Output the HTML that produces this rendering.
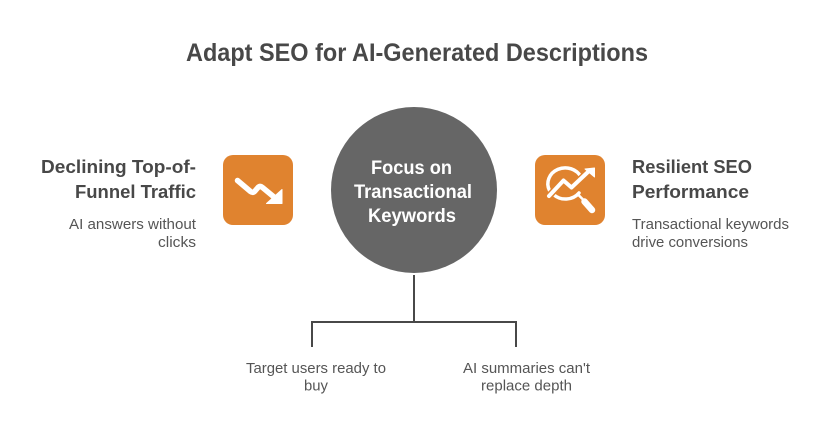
<!DOCTYPE html>
<html>
<head>
<meta charset="utf-8">
<style>
html,body{margin:0;padding:0;background:#fff;width:834px;height:444px;overflow:hidden}
svg{display:block}
text{font-family:"Liberation Sans",sans-serif}
.t{font-size:25px;font-weight:700;fill:#484848}
.h{font-size:18.5px;font-weight:700;fill:#484848}
.d{font-size:14.500px;fill:#555}
.c{font-size:19px;font-weight:700;fill:#fff}
</style>
</head>
<body>
<svg width="834" height="444" viewBox="0 0 834 444" xmlns="http://www.w3.org/2000/svg">
<rect width="834" height="444" fill="#fff"/>
<text class="t" x="186" y="61" textLength="462" lengthAdjust="spacingAndGlyphs">Adapt SEO for AI-Generated Descriptions</text>

<circle cx="414" cy="190" r="83" fill="#666666"/>
<text class="c" x="371" y="174" textLength="81" lengthAdjust="spacingAndGlyphs">Focus on</text>
<text class="c" x="354" y="198" textLength="118" lengthAdjust="spacingAndGlyphs">Transactional</text>
<text class="c" x="368" y="222" textLength="88" lengthAdjust="spacingAndGlyphs">Keywords</text>

<path d="M414 275V322M312 347V322H516V347" fill="none" stroke="#484848" stroke-width="2"/>

<rect x="223" y="155" width="70" height="70" rx="10" fill="#E0832F"/>
<path d="M237.500 180.500L250.500 191.500Q253 193.500 255 191L258 187.500Q260 185.500 262.500 187.500L274 197" fill="none" stroke="#fff" stroke-width="5.500" stroke-linecap="round" stroke-linejoin="round"/>
<path d="M282 189.500V203.500H266.500Z" fill="#fff" stroke="#fff" stroke-width="1" stroke-linejoin="round"/>

<rect x="535" y="155" width="70" height="70" rx="10" fill="#E0832F"/>
<g fill="none" stroke-linecap="round" stroke-linejoin="round">
<path d="M549.500 190.500A17 15.500 0 0 1 581 177" stroke="#fff" stroke-width="3.500"/>
<path d="M553.500 194.500A17 15.500 0 0 0 579 193" stroke="#fff" stroke-width="3.500"/>
<path d="M549 196L563.500 180.500L571.500 187.500L589 171" stroke="#E0832F" stroke-width="7"/>
<path d="M549 196L563.500 180.500L571.500 187.500L589 171" stroke="#fff" stroke-width="4"/>
<path d="M578.500 195L583 199.500" stroke="#fff" stroke-width="2.500"/>
<path d="M584.500 201.500L592 210" stroke="#fff" stroke-width="6.500"/>
</g>
<path d="M585 169L594.500 168V177Z" fill="#fff" stroke="#fff" stroke-width="1" stroke-linejoin="round"/>

<text class="h" x="41" y="173" textLength="155" lengthAdjust="spacingAndGlyphs">Declining Top-of-</text>
<text class="h" x="75" y="198" textLength="121" lengthAdjust="spacingAndGlyphs">Funnel Traffic</text>
<text class="d" x="69" y="229" textLength="127" lengthAdjust="spacingAndGlyphs">AI answers without</text>
<text class="d" x="158" y="247" textLength="38" lengthAdjust="spacingAndGlyphs">clicks</text>

<text class="h" x="632" y="173" textLength="120" lengthAdjust="spacingAndGlyphs">Resilient SEO</text>
<text class="h" x="632" y="198" textLength="117" lengthAdjust="spacingAndGlyphs">Performance</text>
<text class="d" x="632" y="229" textLength="157" lengthAdjust="spacingAndGlyphs">Transactional keywords</text>
<text class="d" x="632" y="247" textLength="116" lengthAdjust="spacingAndGlyphs">drive conversions</text>

<text class="d" x="246" y="373" textLength="140" lengthAdjust="spacingAndGlyphs">Target users ready to</text>
<text class="d" x="304" y="390.500" textLength="24" lengthAdjust="spacingAndGlyphs">buy</text>
<text class="d" x="463" y="373" textLength="127" lengthAdjust="spacingAndGlyphs">AI summaries can't</text>
<text class="d" x="481" y="390.500" textLength="91" lengthAdjust="spacingAndGlyphs">replace depth</text>
</svg>
</body>
</html>
